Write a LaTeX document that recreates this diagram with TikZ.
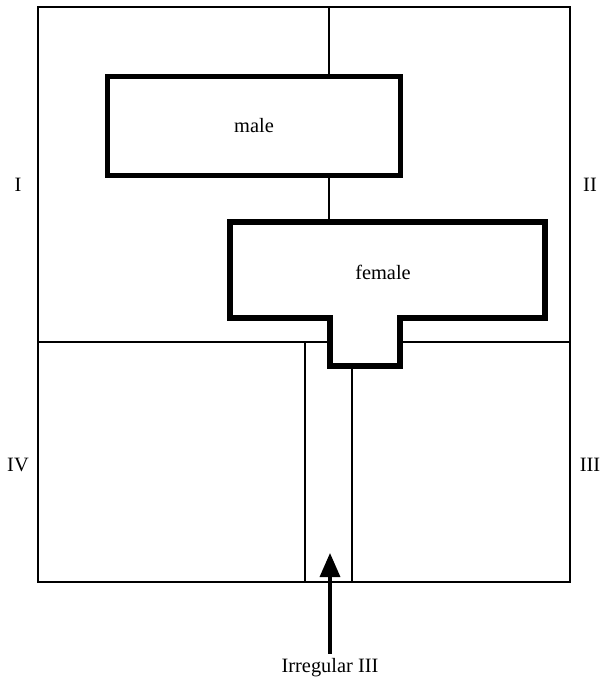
\documentclass[tikz,border=0pt]{standalone}
\usepackage{fontspec}
\setmainfont{Liberation Serif}
\usetikzlibrary{positioning, arrows.meta}

\begin{document}
\begin{tikzpicture}[x=0.025cm, y=-0.025cm, wall/.style={line width=1.8pt}, room/.style={draw, line width=3.6pt, fill=white}, every node/.style={font=\fontsize{14.5}{16}\selectfont}]
\useasboundingbox (0,0) rectangle (605,684);
% Outer walls and partitions
\draw[wall] (38,7) rectangle (570,582);
\draw[wall] (38,342) -- (570,342);
\draw[wall] (329,7) -- (329,230);
\draw[wall] (305,342) -- (305,582);
\draw[wall] (352,342) -- (352,582);
% Rooms
\node (male) at (254,126) [room, minimum width=7.3cm, minimum height=2.47cm] {male};
\draw[line width=3.6pt, fill=white, line join=miter] (230,222) -- (545,222) -- (545,318) -- (400,318) -- (400,366) -- (330,366) -- (330,318) -- (230,318) -- cycle;
\node (female) at (383,272) {female};
% Quarter labels
\node (q1) at (18,185) {I};
\node (q2) at (590,185) {II};
\node (q3) at (590,465) {III};
\node (q4) at (18,465) {IV};
% Pointer
\node (irr) at (330,668) {Irregular III};
\coordinate (tip) at (330,553);
\draw[line width=2.4pt, -{Triangle[length=0.6cm, width=0.5cm]}] (irr.north) -- (tip);
\end{tikzpicture}
\end{document}
